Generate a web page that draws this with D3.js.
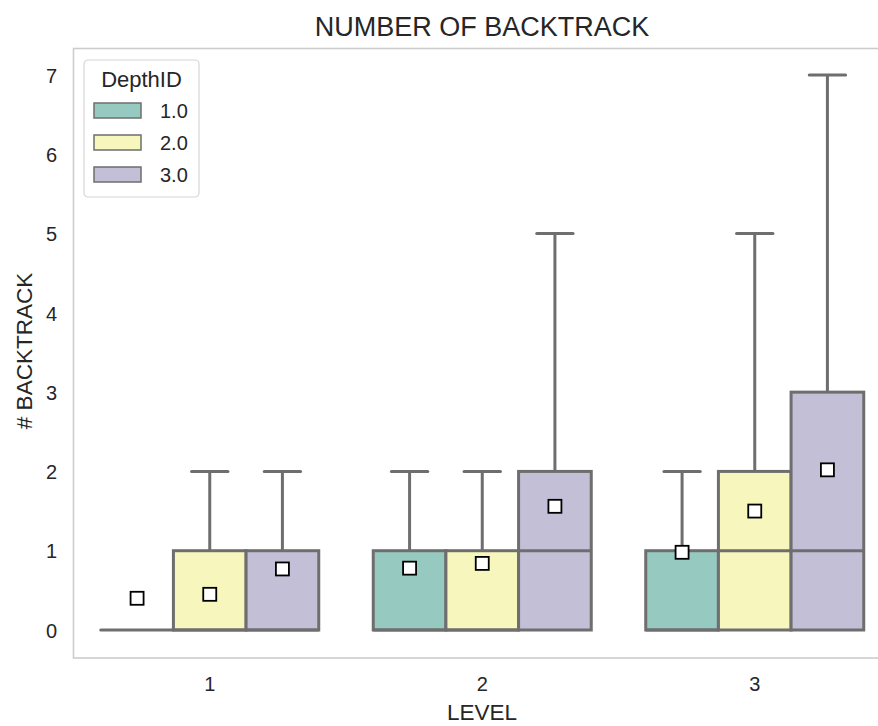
<!DOCTYPE html>
<html lang="en">
<head>
<meta charset="utf-8">
<title>Number of backtrack</title>
<script src="https://d3js.org/d3.v7.min.js"></script>
<style>
  body { margin: 0; background: #fff; overflow: hidden; }
  text { font-family: "Liberation Sans", Arial, sans-serif; fill: #262626; }
</style>
</head>
<body>
<svg width="878" height="726"></svg>
<script>
// data
var levels = ["1", "2", "3"];
var depths = ["1.0", "2.0", "3.0"];
// box stats per level, per depth: [whiskerLow, q1, median, q3, whiskerHigh]
var stats1 = [[0, 0, 0, 0, 0], [0, 0, 0, 1, 2], [0, 0, 0, 1, 2]];
var stats2 = [[0, 0, 0, 1, 2], [0, 0, 0, 1, 2], [0, 0, 1, 2, 5]];
var stats3 = [[0, 0, 0, 1, 2], [0, 0, 1, 2, 5], [0, 0, 1, 3, 7]];
var means1 = [0.40, 0.45, 0.77];
var means2 = [0.78, 0.84, 1.56];
var means3 = [0.98, 1.50, 2.02];
var yTicks = [0, 1, 2, 3, 4, 5, 6, 7];

var colors = ["#96cac1", "#f6f6bd", "#c2bfd7"];
var edge = "#6e6e6e";

var svg = d3.select("svg");
// axes area (right side runs past the picture edge, as in the reference)
var mLeft = 73.5, mRight = 891, mTop = 48.5, mBottom = 658;

var x = d3.scaleBand().domain(levels).range([mLeft, mRight]);
var xs = d3.scaleBand().domain(depths).range([0, x.bandwidth() * 0.8]);
var y = d3.scaleLinear().domain([0, 7]).range([630, 75]);

// frame
svg.append("rect")
  .attr("x", mLeft).attr("y", mTop)
  .attr("width", mRight - mLeft).attr("height", mBottom - mTop)
  .attr("fill", "none").attr("stroke", "#cccccc").attr("stroke-width", 1.6);

// title and axis labels
svg.append("text").attr("x", 482).attr("y", 36)
  .attr("text-anchor", "middle").style("font-size", "27px").text("NUMBER OF BACKTRACK");
svg.append("text").attr("x", 482).attr("y", 720)
  .attr("text-anchor", "middle").style("font-size", "22.5px").text("LEVEL");
svg.append("text").attr("transform", "translate(32,351) rotate(-90)")
  .attr("text-anchor", "middle").style("font-size", "22.5px").text("# BACKTRACK");

// tick labels
var yAxis = svg.append("g").attr("transform", "translate(" + mLeft + ",0)")
  .call(d3.axisLeft(y).tickValues(yTicks).tickFormat(d3.format("d")).tickSize(0).tickPadding(16.5));
yAxis.select(".domain").remove();
yAxis.selectAll("text").style("font-size", "20px").attr("fill", "#262626").attr("dy", "0.36em");

var xAxis = svg.append("g").attr("transform", "translate(0," + mBottom + ")")
  .call(d3.axisBottom(x).tickSize(0));
xAxis.select(".domain").remove();
xAxis.selectAll("text").style("font-size", "20px").attr("fill", "#262626")
  .attr("y", 33).attr("dy", 0);

var allStats = [stats1, stats2, stats3];
var allMeans = [means1, means2, means3];

levels.forEach(function(lv, i) {
  var g0 = x(lv) + x.bandwidth() * 0.1;
  depths.forEach(function(dp, j) {
    var s = allStats[i][j];
    var bx = g0 + xs(dp), bw = xs.bandwidth(), cx = bx + bw / 2;
    var g = svg.append("g");
    // whisker
    if (s[4] > s[3]) {
      g.append("line").attr("x1", cx).attr("x2", cx).attr("y1", y(s[3])).attr("y2", y(s[4]))
        .attr("stroke", edge).attr("stroke-width", 3);
      g.append("line").attr("x1", cx - bw / 4).attr("x2", cx + bw / 4).attr("y1", y(s[4])).attr("y2", y(s[4]))
        .attr("stroke", edge).attr("stroke-width", 3).attr("stroke-linecap", "round");
    }
    if (s[3] > s[1]) {
      g.append("rect").attr("x", bx).attr("y", y(s[3]))
        .attr("width", bw).attr("height", y(s[1]) - y(s[3]))
        .attr("fill", colors[j]).attr("stroke", edge).attr("stroke-width", 3);
    }
    g.append("line").attr("x1", bx).attr("x2", bx + bw).attr("y1", y(s[2])).attr("y2", y(s[2]))
      .attr("stroke", edge).attr("stroke-width", 3).attr("stroke-linecap", s[3] > s[1] ? "butt" : "round");
    // mean marker
    var m = allMeans[i][j];
    g.append("rect").attr("x", cx - 6.5).attr("y", y(m) - 6.5)
      .attr("width", 13).attr("height", 13)
      .attr("fill", "#fff").attr("stroke", "#000").attr("stroke-width", 1.8);
  });
});

// legend
var lg = svg.append("g").attr("transform", "translate(84,60)");
lg.append("rect").attr("width", 115).attr("height", 137).attr("rx", 4)
  .attr("fill", "#fff").attr("stroke", "#d6d6d6").attr("stroke-width", 1.2);
lg.append("text").attr("x", 57.5).attr("y", 27).attr("text-anchor", "middle")
  .style("font-size", "22px").text("DepthID");
depths.forEach(function(dp, j) {
  var ly = 43 + j * 32;
  lg.append("rect").attr("x", 10).attr("y", ly).attr("width", 47).attr("height", 15)
    .attr("fill", colors[j]).attr("stroke", edge).attr("stroke-width", 1.5);
  lg.append("text").attr("x", 76).attr("y", ly + 15).style("font-size", "20px").text(dp);
});
</script>
</body>
</html>
